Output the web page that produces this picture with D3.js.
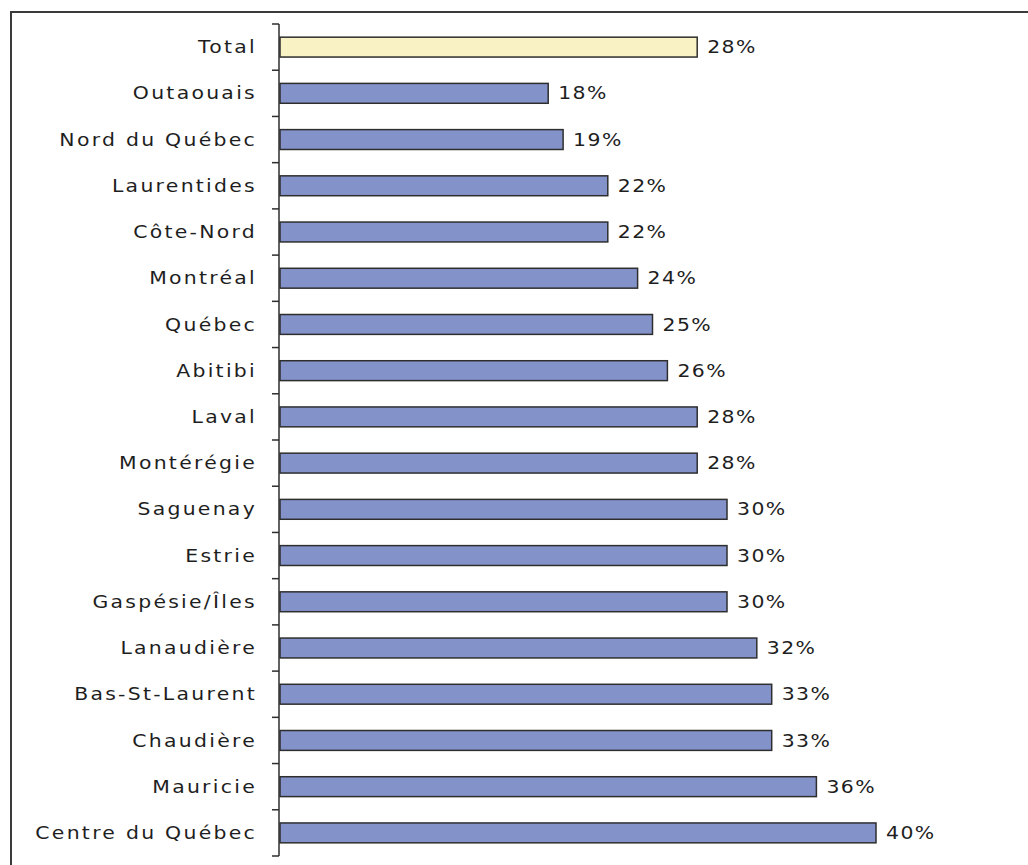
<!DOCTYPE html>
<html>
<head>
<meta charset="utf-8">
<script src="https://cdn.jsdelivr.net/npm/d3@7/dist/d3.min.js"></script>
<style>
  html, body { margin: 0; padding: 0; background: #ffffff; }
  svg { display: block; }
  text { font-family: "DejaVu Sans", Verdana, sans-serif; fill: #1e1e1e; }
</style>
</head>
<body>
<svg id="chart" width="1028" height="865"></svg>
<script>
// Share by region (%), top to bottom
const regions = [
  "Total", "Outaouais", "Nord du Québec", "Laurentides", "Côte-Nord",
  "Montréal", "Québec", "Abitibi", "Laval", "Montérégie", "Saguenay",
  "Estrie", "Gaspésie/Îles", "Lanaudière", "Bas-St-Laurent", "Chaudière",
  "Mauricie", "Centre du Québec"
];
const values = [28, 18, 19, 22, 22, 24, 25, 26, 28, 28, 30, 30, 30, 32, 33, 33, 36, 40];
const highlighted = ["Total"];

const svg = d3.select("#chart");
const W = 1028, H = 865;
const stretch = 1.2; // wide lettering

// frame lines (top and left)
svg.append("line").attr("x1", 10).attr("x2", W).attr("y1", 12).attr("y2", 12)
  .attr("stroke", "#3a3a3a").attr("stroke-width", 2);
svg.append("line").attr("x1", 11).attr("x2", 11).attr("y1", 12).attr("y2", H)
  .attr("stroke", "#3a3a3a").attr("stroke-width", 2);

const x = d3.scaleLinear().domain([0, 40]).range([280, 876]);
const y = d3.scaleBand().domain(regions).range([24, 856])
  .paddingInner(0.57).paddingOuter(0.285);

const data = regions.map((r, i) => ({ region: r, value: values[i] }));

// bars
svg.append("g").selectAll("rect").data(data).join("rect")
  .attr("x", x(0))
  .attr("y", d => y(d.region))
  .attr("width", d => x(d.value) - x(0))
  .attr("height", y.bandwidth())
  .attr("fill", d => highlighted.includes(d.region) ? "#f9f2c4" : "#8392c9")
  .attr("stroke", "#2e2e2e")
  .attr("stroke-width", 1.5);

// axis line with ticks between categories
const axis = svg.append("g");
axis.append("line").attr("x1", 279).attr("x2", 279).attr("y1", 24).attr("y2", 856)
  .attr("stroke", "#2e2e2e").attr("stroke-width", 1.5);
const boundaries = d3.range(regions.length + 1).map(i => 24 + i * y.step());
axis.selectAll("line.tick").data(boundaries).join("line")
  .attr("class", "tick")
  .attr("x1", 272).attr("x2", 279)
  .attr("y1", d => d).attr("y2", d => d)
  .attr("stroke", "#2e2e2e").attr("stroke-width", 1.5);

// category labels
svg.append("g").selectAll("text").data(data).join("text")
  .attr("transform", d => `translate(257,${y(d.region) + y.bandwidth() / 2}) scale(${stretch},1)`)
  .attr("dy", "0.36em")
  .attr("text-anchor", "end")
  .style("font-size", "17px")
  .style("letter-spacing", "1.9px")
  .text(d => d.region);

// value labels
svg.append("g").selectAll("text").data(data).join("text")
  .attr("transform", d => `translate(${x(d.value) + 10},${y(d.region) + y.bandwidth() / 2}) scale(${stretch},1)`)
  .attr("dy", "0.36em")
  .style("font-size", "17px")
  .style("letter-spacing", "1.2px")
  .text(d => d.value + "%");
</script>
</body>
</html>
